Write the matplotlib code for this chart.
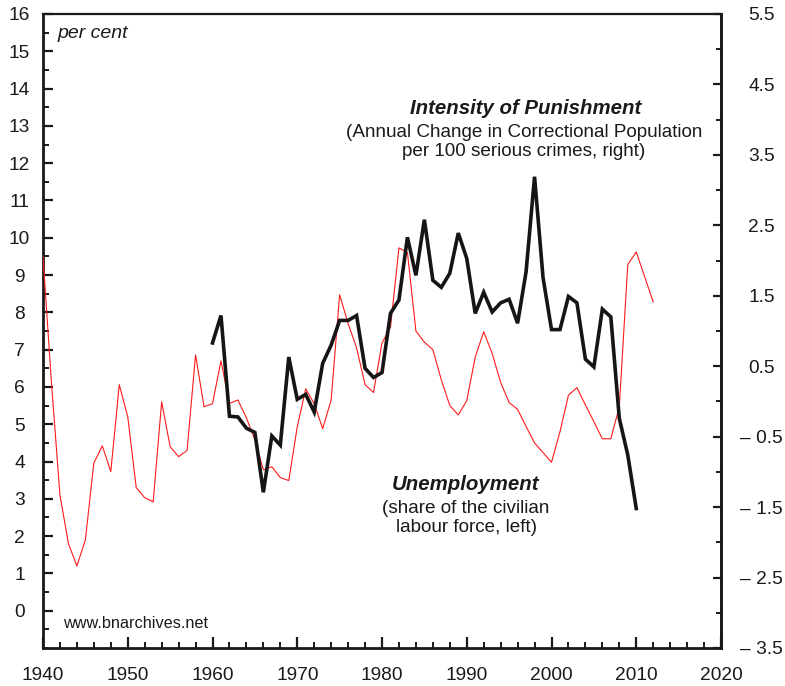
import matplotlib
matplotlib.use("Agg")
import matplotlib.pyplot as plt
from matplotlib.ticker import MultipleLocator, FixedLocator

plt.rcParams['font.family'] = ['Liberation Sans', 'DejaVu Sans']

# Unemployment (share of civilian labour force, %), left axis
unemp_years = list(range(1940, 2013))
unemp = [9.5, 6.1, 3.1, 1.8, 1.2, 1.9, 3.96, 4.42, 3.73, 6.06,
         5.2, 3.3, 3.03, 2.92, 5.6, 4.4, 4.13, 4.3, 6.86, 5.47,
         5.55, 6.7, 5.56, 5.65, 5.17, 4.58, 3.78, 3.86, 3.57, 3.49,
         4.93, 5.95, 5.55, 4.88, 5.65, 8.47, 7.7, 7.05, 6.06, 5.85,
         7.18, 7.6, 9.73, 9.6, 7.5, 7.2, 7.0, 6.19, 5.5, 5.25,
         5.63, 6.8, 7.48, 6.9, 6.12, 5.58, 5.4, 4.94, 4.5, 4.24,
         3.98, 4.8, 5.78, 5.98, 5.52, 5.07, 4.61, 4.61, 5.47, 9.28,
         9.62, 8.95, 8.28]

# Intensity of punishment, right axis
pun_years = list(range(1960, 2011))
pun = [0.83, 1.22, -0.21, -0.22, -0.38, -0.44, -1.29, -0.49, -0.62, 0.63,
       0.03, 0.10, -0.15, 0.54, 0.80, 1.15, 1.15, 1.22, 0.47, 0.34,
       0.41, 1.25, 1.44, 2.33, 1.79, 2.58, 1.72, 1.62, 1.82, 2.39,
       2.03, 1.25, 1.55, 1.27, 1.40, 1.45, 1.11, 1.84, 3.19, 1.76,
       1.02, 1.02, 1.49, 1.40, 0.60, 0.49, 1.31, 1.20, -0.24, -0.76,
       -1.52]

left_ticks = list(range(0, 17))
right_ticks = [5.5, 4.5, 3.5, 2.5, 1.5, 0.5, -0.5, -1.5, -2.5, -3.5]
right_labels = ['5.5', '4.5', '3.5', '2.5', '1.5', '0.5',
                '\u2013 0.5', '\u2013 1.5', '\u2013 2.5', '\u2013 3.5']
x_ticks = list(range(1940, 2021, 10))

fig = plt.figure(figsize=(7.85, 6.86), dpi=100)
ax = fig.add_axes([43/785, 1-648/686, (721-43)/785, (648-14)/686])
ax2 = ax.twinx()

ax.plot(unemp_years, unemp, color='#ff1a1a', lw=0.8, zorder=3)
ax2.plot(pun_years, pun, color='#151515', lw=2.6, solid_joinstyle='miter', zorder=3)

ax.set_xlim(1940, 2020)
ax.set_ylim(-1, 16)
ax2.set_ylim(-3.5, 5.5)

ax.xaxis.set_major_locator(FixedLocator(x_ticks))
ax.xaxis.set_minor_locator(MultipleLocator(2))
ax.yaxis.set_major_locator(FixedLocator(left_ticks))
ax.yaxis.set_minor_locator(MultipleLocator(0.5))
ax2.yaxis.set_major_locator(FixedLocator(right_ticks))
ax2.yaxis.set_minor_locator(MultipleLocator(0.5))
ax2.set_yticklabels(right_labels)

LS = 13.8
ax.tick_params(axis='x', which='major', direction='in', length=8, width=1.6,
               labelsize=LS, pad=14, top=False, colors='#1a1a1a')
ax.tick_params(axis='x', which='minor', direction='in', length=4.5, width=1.4, top=False,
               colors='#1a1a1a')
ax.tick_params(axis='y', which='major', direction='in', length=7, width=1.6,
               labelsize=LS, pad=17, right=False, colors='#1a1a1a')
ax.tick_params(axis='y', which='minor', direction='in', length=4, width=1.4, right=False,
               colors='#1a1a1a')
ax2.tick_params(axis='y', which='major', direction='in', length=6, width=1.6,
                labelsize=LS, pad=29, left=False, colors='#1a1a1a')
ax2.tick_params(axis='y', which='minor', direction='in', length=3.5, width=1.4, left=False,
                colors='#1a1a1a')
for lab in ax.get_yticklabels():
    lab.set_horizontalalignment('center')
for lab in ax2.get_yticklabels():
    lab.set_horizontalalignment('center')

for s in ax.spines.values():
    s.set_color('#1a1a1a')
    s.set_linewidth(2.0)
    s.set_zorder(2.5)
ax.spines['top'].set_linewidth(1.6)
for name, s in ax2.spines.items():
    if name == 'right':
        s.set_color('#1a1a1a')
        s.set_linewidth(2.0)
    else:
        s.set_visible(False)


def px(x, y):
    return (x / 785, 1 - y / 686)


fig.text(*px(57, 33), 'per cent', fontsize=14, style='italic', color='#1a1a1a',
         va='center', ha='left')
fig.text(*px(526, 108), 'Intensity of Punishment', fontsize=14.7, style='italic',
         weight='bold', color='#1a1a1a', va='center', ha='center')
fig.text(*px(524, 142), '(Annual Change in Correctional Population\nper 100 serious crimes, right)',
         fontsize=13.6, color='#1a1a1a', va='center', ha='center', linespacing=1.2)
fig.text(*px(466, 485), 'Unemployment', fontsize=14.7, style='italic',
         weight='bold', color='#1a1a1a', va='center', ha='center')
fig.text(*px(466, 518), '(share of the civilian\nlabour force, left)',
         fontsize=13.6, color='#1a1a1a', va='center', ha='center', linespacing=1.2)
fig.text(*px(63, 623), 'www.bnarchives.net', fontsize=11.7, color='#1a1a1a',
         va='center', ha='left')

fig.savefig('out.png', dpi=100)
